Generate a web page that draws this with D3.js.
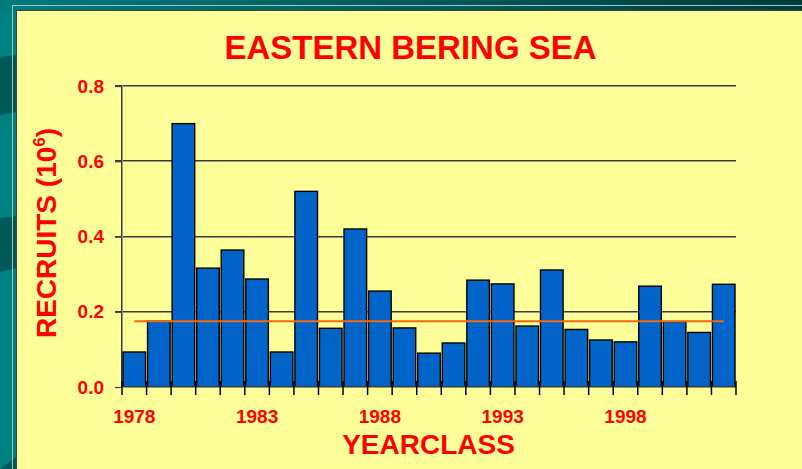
<!DOCTYPE html>
<html>
<head>
<meta charset="utf-8">
<script src="https://cdn.jsdelivr.net/npm/d3@7"></script>
<style>
  html, body { margin: 0; padding: 0; background: #008080; }
  svg { display: block; }
  text { font-family: "Liberation Sans", Arial, sans-serif; font-weight: bold; fill: #FF0000; }
</style>
</head>
<body>
<svg id="chart" width="802" height="469"></svg>
<script>
// ---- data ----
const years = [1978,1979,1980,1981,1982,1983,1984,1985,1986,1987,1988,1989,1990,1991,1992,1993,1994,1995,1996,1997,1998,1999,2000,2001,2002];
const recruits = [0.093,0.175,0.700,0.316,0.364,0.287,0.093,0.520,0.156,0.420,0.255,0.157,0.090,0.117,0.284,0.274,0.162,0.311,0.153,0.125,0.120,0.268,0.174,0.145,0.273];
const meanRecruits = 0.175;
const yTicks = [0.0, 0.2, 0.4, 0.6, 0.8];
const xLabelYears = [1978, 1983, 1988, 1993, 1998];
const titleText = "EASTERN BERING SEA";
const xTitle = "YEARCLASS";
const yTitle = "RECRUITS (10";
const yTitleSup = "6";

const svg = d3.select("#chart");
const W = 802, H = 469;

// ---- background ----
const defs = svg.append("defs");
const g1 = defs.append("linearGradient").attr("id", "topStrip").attr("x1", 0).attr("x2", 1).attr("y1", 0).attr("y2", 0);
g1.append("stop").attr("offset", 0).attr("stop-color", "#007c7c");
g1.append("stop").attr("offset", 1).attr("stop-color", "#003c3c");

svg.append("rect").attr("width", W).attr("height", H).attr("fill", "#008080");
svg.append("rect").attr("width", W).attr("height", 11).attr("fill", "url(#topStrip)");
svg.append("polygon").attr("points", "0,57 17,55 17,112 0,115").attr("fill", "#005a58");
svg.append("polygon").attr("points", "0,218 17,216 17,268 0,272").attr("fill", "#005a58");
svg.append("polygon").attr("points", "0,469 17,469 17,456").attr("fill", "#005a58");
// light frame lines
svg.append("line").attr("x1", 12.5).attr("x2", 12.5).attr("y1", 5.5).attr("y2", H).attr("stroke", "#a8c4c4").attr("stroke-width", 1);
svg.append("line").attr("x1", 12.5).attr("x2", W).attr("y1", 5.5).attr("y2", 5.5).attr("stroke", "#a8c4c4").attr("stroke-width", 1);
// yellow panel
svg.append("rect").attr("x", 17).attr("y", 11).attr("width", W - 17).attr("height", H - 11).attr("fill", "#FFFF99");
svg.append("line").attr("x1", 16.5).attr("x2", 16.5).attr("y1", 10.5).attr("y2", H).attr("stroke", "#2c4c44");
svg.append("line").attr("x1", 16.5).attr("x2", W).attr("y1", 10.5).attr("y2", 10.5).attr("stroke", "#2c4c44");

// ---- scales ----
const plot = { left: 122, right: 736, top: 86, bottom: 387 };
const x = d3.scaleBand().domain(years).range([plot.left, plot.right]).paddingInner(0.08).paddingOuter(0.04);
const y = d3.scaleLinear().domain([0, 0.8]).range([plot.bottom, plot.top]);
const step = x.step();
const gapHalf = (step - x.bandwidth()) / 2;

// ---- gridlines ----
const grid = svg.append("g");
grid.selectAll("line.g1").data(yTicks.filter(d => d > 0)).join("line")
  .attr("x1", plot.left - 7).attr("x2", plot.right)
  .attr("y1", d => Math.round(y(d)) - 0.5).attr("y2", d => Math.round(y(d)) - 0.5)
  .attr("stroke", "#3a3a30").attr("stroke-width", 1);
grid.selectAll("line.g2").data(yTicks.filter(d => d > 0)).join("line")
  .attr("x1", plot.left - 7).attr("x2", plot.right)
  .attr("y1", d => Math.round(y(d)) + 0.5).attr("y2", d => Math.round(y(d)) + 0.5)
  .attr("stroke", "#9a9a80").attr("stroke-width", 1);

// ---- y axis ----
const yAxis = svg.append("g").attr("transform", `translate(${plot.left},0)`)
  .call(d3.axisLeft(y).tickValues(yTicks).tickFormat(d3.format(".1f")).tickSize(7).tickPadding(11));
yAxis.select(".domain").remove();
yAxis.selectAll(".tick line").attr("stroke", "#3a3a30").attr("stroke-width", 1.2);
yAxis.selectAll(".tick text").style("font-size", "19px").style("font-family", "'Liberation Sans', Arial, sans-serif").style("font-weight", "bold").attr("fill", "#FF0000");
svg.append("line").attr("x1", plot.left - 0.5).attr("x2", plot.left - 0.5).attr("y1", plot.top - 1).attr("y2", plot.bottom)
  .attr("stroke", "#3a3a30").attr("stroke-width", 1);
svg.append("line").attr("x1", plot.left + 0.5).attr("x2", plot.left + 0.5).attr("y1", plot.top - 1).attr("y2", plot.bottom)
  .attr("stroke", "#9a9a80").attr("stroke-width", 1);

// ---- bars ----
svg.append("g").selectAll("rect").data(years).join("rect")
  .attr("x", (d) => x(d))
  .attr("y", (d, i) => y(recruits[i]))
  .attr("width", x.bandwidth())
  .attr("height", (d, i) => y(0) - y(recruits[i]))
  .attr("fill", "#0064C8")
  .attr("stroke", "#000")
  .attr("stroke-width", 1.4);

// ---- x axis line ----
svg.append("line").attr("x1", plot.left).attr("x2", plot.right).attr("y1", plot.bottom - 0.5).attr("y2", plot.bottom - 0.5)
  .attr("stroke", "#3a3a30").attr("stroke-width", 1);
svg.append("line").attr("x1", plot.left).attr("x2", plot.right).attr("y1", plot.bottom + 0.5).attr("y2", plot.bottom + 0.5)
  .attr("stroke", "#9a9a80").attr("stroke-width", 1);

// boundary ticks
const bounds = years.map(d => x(d) - gapHalf).concat([x(years[years.length - 1]) + x.bandwidth() + gapHalf]);
svg.append("g").selectAll("line").data(bounds).join("line")
  .attr("x1", d => d).attr("x2", d => d)
  .attr("y1", plot.bottom - 6).attr("y2", plot.bottom + 8)
  .attr("stroke", "#000").attr("stroke-width", 1.5);

// x labels
const xAxis = svg.append("g").attr("transform", `translate(0,${plot.bottom})`)
  .call(d3.axisBottom(x).tickValues(xLabelYears).tickSize(0).tickPadding(22.5));
xAxis.select(".domain").remove();
xAxis.selectAll(".tick text").style("font-size", "19px").style("font-family", "'Liberation Sans', Arial, sans-serif").style("font-weight", "bold").attr("fill", "#FF0000");

// ---- mean line ----
svg.append("line")
  .attr("x1", x(years[0]) + x.bandwidth() / 2)
  .attr("x2", x(years[years.length - 1]) + x.bandwidth() / 2)
  .attr("y1", y(meanRecruits)).attr("y2", y(meanRecruits))
  .attr("stroke", "#F26A10").attr("stroke-width", 2);

// ---- titles ----
svg.append("text").attr("x", 410.5).attr("y", 58.5).attr("text-anchor", "middle")
  .style("font-size", "33px").text(titleText);
svg.append("text").attr("x", 428.5).attr("y", 454).attr("text-anchor", "middle")
  .style("font-size", "28px").text(xTitle);
const yt = svg.append("text").attr("transform", "translate(56,233) rotate(-90)").attr("text-anchor", "middle")
  .style("font-size", "28px");
yt.append("tspan").text(yTitle);
yt.append("tspan").attr("dy", -11).style("font-size", "17px").text(yTitleSup);
yt.append("tspan").attr("dy", 11).text(")");
</script>
</body>
</html>
